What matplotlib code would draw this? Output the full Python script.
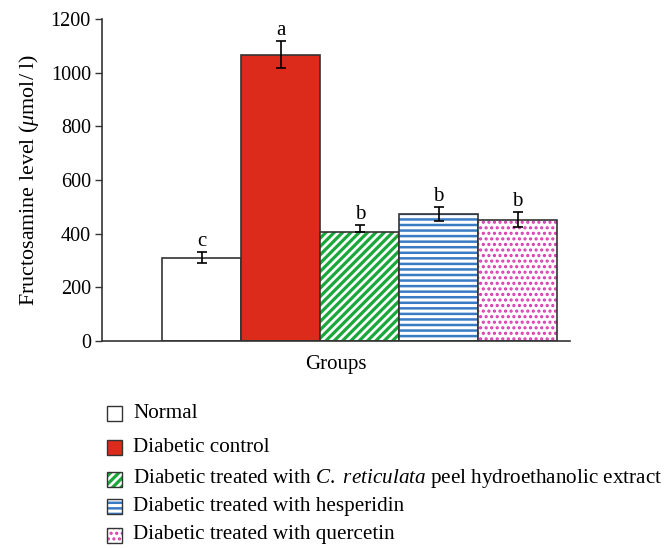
import matplotlib
matplotlib.use("Agg")
import matplotlib.pyplot as plt
from matplotlib.patches import Rectangle

plt.rcParams['font.family'] = ['Liberation Serif', 'DejaVu Serif']
plt.rcParams['mathtext.fontset'] = 'custom'
plt.rcParams['mathtext.rm'] = 'Liberation Serif'
plt.rcParams['mathtext.it'] = 'Liberation Serif:italic'

# group data
groups = ['Normal', 'Diabetic control',
          r'Diabetic treated with $\mathit{C.\ reticulata}$ peel hydroethanolic extract',
          'Diabetic treated with hesperidin',
          'Diabetic treated with quercetin']
means = [310, 1067, 405, 472, 452]
err_low = [21, 51, 0, 26, 28]
err_high = [21, 51, 27, 26, 28]
letters = ['c', 'a', 'b', 'b', 'b']

# styles for each bar: face, hatch, hatch colour, hatch line width
faces = ['white', '#dc2b1a', 'white', 'white', 'white']
hatches = [None, None, '////', '---', '...']
hcolors = [None, None, '#1aa83a', '#3a7cc4', '#d83ab0']
hwidths = [1, 1, 2.3, 1.8, 1.5]
edge = '#333333'

fig = plt.figure(figsize=(6.69, 5.48), dpi=100)
ax = fig.add_axes([0.1525, 0.3777, 0.6995, 0.5876])

x = list(range(len(means)))
for i in x:
    if hatches[i]:
        with plt.rc_context({'hatch.linewidth': hwidths[i]}):
            ax.bar(i, means[i], width=1.0, color='white', edgecolor=hcolors[i],
                   hatch=hatches[i], linewidth=0)
        ax.bar(i, means[i], width=1.0, fill=False, edgecolor=edge, linewidth=1.2)
    else:
        ax.bar(i, means[i], width=1.0, color=faces[i], edgecolor=edge, linewidth=1.2)

ax.errorbar(x, means, yerr=[err_low, err_high], fmt='none', ecolor='black',
            elinewidth=1.2, capsize=3.5, capthick=1.2)

for i in x:
    ax.annotate(letters[i], (i, means[i] + err_high[i]), xytext=(0, 1),
                textcoords='offset points', ha='center', va='bottom', fontsize=15)

ax.set_xlim(-1.262, 4.662)
ax.set_ylim(0, 1200)
ax.set_yticks([0, 200, 400, 600, 800, 1000, 1200])
ax.set_xticks([])
ax.tick_params(axis='y', labelsize=14.5, length=5, width=1, color=edge, pad=3)
for s in ['top', 'right']:
    ax.spines[s].set_visible(False)
for s in ['left', 'bottom']:
    ax.spines[s].set_color(edge)
    ax.spines[s].set_linewidth(1.2)
ax.set_xlabel('Groups', fontsize=15, labelpad=10)
ax.set_ylabel(r'Fructosamine level ($\mu$mol/ l)', fontsize=15.8, labelpad=7)

# legend drawn by hand below the axes
W, H = 669.0, 548.0
rows = [413, 447, 479, 506, 535]
sq = 15
for i, lab in enumerate(groups):
    yc = rows[i]
    xy = (107 / W, 1 - (yc + sq / 2) / H)
    if hatches[i]:
        with plt.rc_context({'hatch.linewidth': hwidths[i]}):
            fig.add_artist(Rectangle(xy, sq / W, sq / H, transform=fig.transFigure,
                                     facecolor='white', edgecolor=hcolors[i],
                                     hatch=hatches[i], linewidth=0))
        fig.add_artist(Rectangle(xy, sq / W, sq / H, transform=fig.transFigure,
                                 fill=False, edgecolor=edge, linewidth=1))
    else:
        fig.add_artist(Rectangle(xy, sq / W, sq / H, transform=fig.transFigure,
                                 facecolor=faces[i], edgecolor=edge, linewidth=1))
    fig.text(133 / W, 1 - yc / H, lab, fontsize=15.2, va='center', ha='left')

fig.savefig('out.png', dpi=100)
